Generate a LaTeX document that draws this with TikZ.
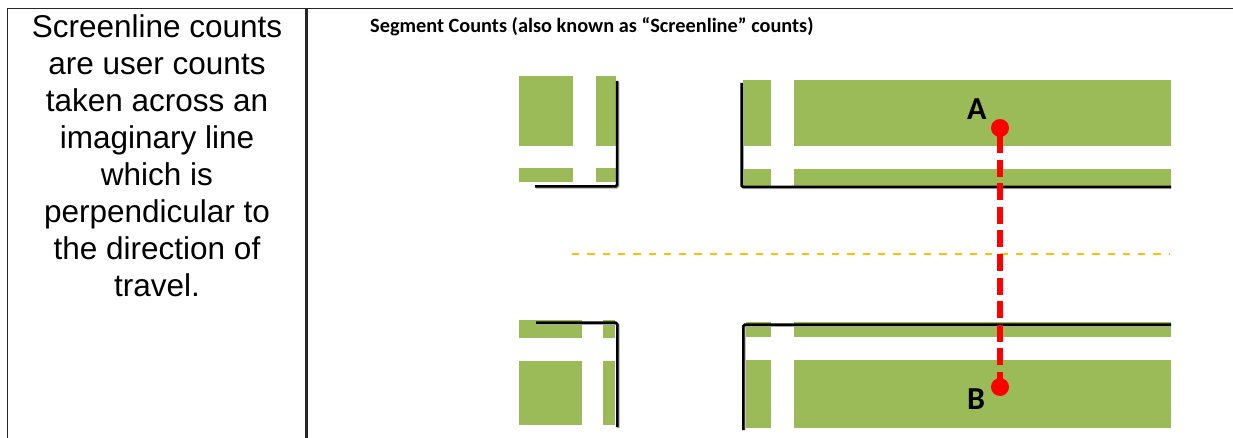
\documentclass[tikz,border=0pt]{standalone}
\usepackage{fontspec}
\setmainfont{Liberation Sans}
\newfontfamily\carlito{Carlito}
\definecolor{grass}{RGB}{155,187,89}
\definecolor{amber}{RGB}{255,192,0}
\definecolor{pinred}{RGB}{255,0,0}
\tikzset{
  grassbox/.style={fill=grass, draw=none},
  curb/.style={draw=black, line width=2.5pt, rounded corners=1.5pt},
  curbshadow/.style={draw=black!35, line width=2.5pt, rounded corners=1.5pt},
  rule/.style={draw=black!85},
  lefttext/.style={anchor=base, inner sep=0pt, font=\fontsize{31.5}{36.9}\selectfont},
  screenline/.style={draw=amber, line width=2pt, dash pattern=on 7.3pt off 8pt},
  countline/.style={draw=pinred, line width=6pt, dash pattern=on 17pt off 6.5pt, dash phase=15pt},
  pin/.style={circle, fill=pinred, minimum size=18pt, inner sep=0pt},
  pinlabel/.style={anchor=base, inner sep=0pt, font=\carlito\bfseries\fontsize{32}{32}\selectfont},
}
\begin{document}
\begin{tikzpicture}[x=1pt, y=-1pt]
\useasboundingbox (0,0) rectangle (1233,438);
% table rules
\draw[rule, line width=1.6pt] (7,8.5) -- (1233,8.5);
\draw[rule, line width=1.3pt] (7.5,8.5) -- (7.5,438);
\draw[rule, line width=2.2pt] (306.5,8.5) -- (306.5,438);
% left text
\node[lefttext] (t1) at (157,38) {Screenline counts};
\node[lefttext] (t2) at (157,74.9) {are user counts};
\node[lefttext] (t3) at (157,111.8) {taken across an};
\node[lefttext] (t4) at (157,148.7) {imaginary line};
\node[lefttext] (t5) at (157,185.6) {which is};
\node[lefttext] (t6) at (157,222.5) {perpendicular to};
\node[lefttext] (t7) at (157,259.4) {the direction of};
\node[lefttext] (t8) at (157,296.3) {travel.};
% title
\node[anchor=base west, inner sep=0pt, font=\carlito\bfseries\fontsize{20.3}{21}\selectfont] (title) at (370,33) {Segment Counts (also known as “Screenline” counts)};
% green blocks top-left
\fill[grassbox] (519,76) rectangle (572.7,146);
\fill[grassbox] (595.7,76) rectangle (616,146);
\fill[grassbox] (519,168.3) rectangle (572.7,181.7);
\fill[grassbox] (595.7,168.3) rectangle (616,181.7);
% green blocks top-right
\fill[grassbox] (743,80) rectangle (771,145.7);
\fill[grassbox] (794,80) rectangle (1171,145.7);
\fill[grassbox] (743,169) rectangle (771,186.7);
\fill[grassbox] (794,169) rectangle (1171,186.7);
% green blocks bottom-left
\fill[grassbox] (519,320) rectangle (581.7,338.3);
\fill[grassbox] (603.3,320) rectangle (615,338.3);
\fill[grassbox] (519,360.7) rectangle (581.7,425);
\fill[grassbox] (603.3,360.7) rectangle (615,425);
% green blocks bottom-right
\fill[grassbox] (746,322.3) rectangle (771,336.7);
\fill[grassbox] (794,322.3) rectangle (1171,336.7);
\fill[grassbox] (746,360) rectangle (771,428.3);
\fill[grassbox] (794,360) rectangle (1171,428.3);
% curbs (shadow then line)
\draw[curbshadow] (618,82) -- (618,187.5) -- (536,187.5);
\draw[curb] (617,81) -- (617,186.5) -- (535,186.5);
\draw[curbshadow] (742.5,84) -- (742.5,188) -- (1171,188);
\draw[curb] (741.5,83) -- (741.5,187) -- (1171,187);
\draw[curbshadow] (537,323.7) -- (618.3,323.7) -- (618.3,428);
\draw[curb] (536,322.7) -- (617.3,322.7) -- (617.3,427);
\draw[curbshadow] (1171,325.7) -- (744.3,325.7) -- (744.3,430);
\draw[curb] (1171,324.7) -- (743.3,324.7) -- (743.3,430);
% screenline
\coordinate (s1) at (572,254);
\coordinate (s2) at (1170,254);
\draw[screenline] (s1) -- (s2);
% count line between A and B
\coordinate (pA) at (1000,128);
\coordinate (pB) at (1000,387);
\draw[countline] (pA) -- (pB);
\node[pin] (dotA) at (pA) {};
\node[pin] (dotB) at (pB) {};
\node[pinlabel] (labA) at (976.7,120) {A};
\node[pinlabel] (labB) at (976,409.3) {B};
\end{tikzpicture}
\end{document}
